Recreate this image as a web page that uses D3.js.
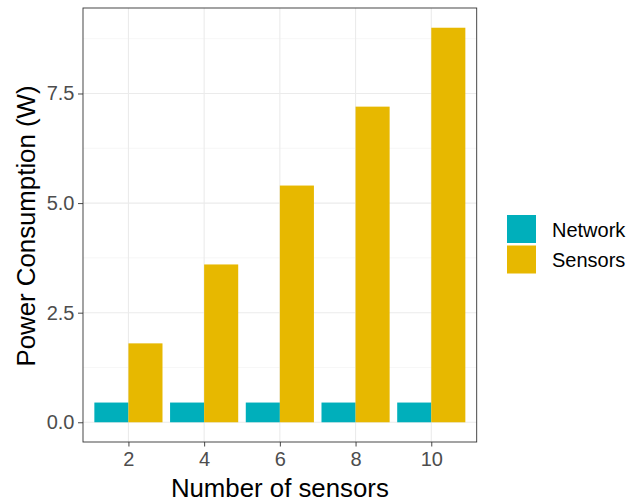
<!DOCTYPE html>
<html>
<head>
<meta charset="utf-8">
<script src="https://cdn.jsdelivr.net/npm/d3@7"></script>
<style>
  html, body { margin: 0; padding: 0; background: #fff; }
  text { font-family: "Liberation Sans", Arial, sans-serif; }
</style>
</head>
<body>
<svg id="chart" width="629" height="502"></svg>
<script>
const categories = ["2", "4", "6", "8", "10"];
const seriesNames = ["Network", "Sensors"];
const networkValues = [0.45, 0.45, 0.45, 0.45, 0.45];
const sensorValues = [1.8, 3.6, 5.4, 7.2, 9.0];
const yTicks = [0, 2.5, 5, 7.5];
const yMinorTicks = [1.25, 3.75, 6.25, 8.75];
const colors = ["#00AFBB", "#E7B800"];

const svg = d3.select("#chart");
const panel = { left: 83, right: 476.7, top: 8, bottom: 442 };

const x = d3.scalePoint().domain(categories).range([panel.left, panel.right]).padding(0.6);
const step = x.step();
const dodge = d3.scaleBand().domain(seriesNames).range([-0.45 * step, 0.45 * step]).padding(0);
const y = d3.scaleLinear().domain([-0.45, 9.45]).range([panel.bottom, panel.top]);
const color = d3.scaleOrdinal().domain(seriesNames).range(colors);

const data = [];
categories.forEach((c, i) => {
  data.push({ cat: c, series: "Network", value: networkValues[i] });
  data.push({ cat: c, series: "Sensors", value: sensorValues[i] });
});

// grid
const g = svg.append("g");
g.selectAll(".minor").data(yMinorTicks).join("line")
  .attr("x1", panel.left).attr("x2", panel.right)
  .attr("y1", d => y(d)).attr("y2", d => y(d))
  .attr("stroke", "#f0f0f0").attr("stroke-width", 0.6);
g.selectAll(".majy").data(yTicks).join("line")
  .attr("x1", panel.left).attr("x2", panel.right)
  .attr("y1", d => y(d)).attr("y2", d => y(d))
  .attr("stroke", "#ebebeb").attr("stroke-width", 1.1);
g.selectAll(".majx").data(categories).join("line")
  .attr("x1", d => x(d)).attr("x2", d => x(d))
  .attr("y1", panel.top).attr("y2", panel.bottom)
  .attr("stroke", "#ebebeb").attr("stroke-width", 1.1);

// bars
svg.append("g").selectAll("rect").data(data).join("rect")
  .attr("x", d => x(d.cat) + dodge(d.series))
  .attr("width", dodge.bandwidth())
  .attr("y", d => y(d.value))
  .attr("height", d => y(0) - y(d.value))
  .attr("fill", d => color(d.series));

// panel border
svg.append("rect")
  .attr("x", panel.left).attr("y", panel.top)
  .attr("width", panel.right - panel.left).attr("height", panel.bottom - panel.top)
  .attr("fill", "none").attr("stroke", "#333").attr("stroke-width", 0.9);

// axes
const yAxis = svg.append("g").attr("transform", `translate(${panel.left},0)`)
  .call(d3.axisLeft(y).tickValues(yTicks).tickFormat(d3.format(".1f")).tickSize(5).tickPadding(3.5));
const xAxis = svg.append("g").attr("transform", `translate(0,${panel.bottom})`)
  .call(d3.axisBottom(x).tickSize(4.5).tickPadding(5.3));
[yAxis, xAxis].forEach(a => {
  a.select(".domain").remove();
  a.selectAll(".tick line").attr("stroke", "#333").attr("stroke-width", 0.9);
  a.selectAll(".tick text").attr("fill", "#4d4d4d").style("font-size", "20px")
    .style("font-family", "'Liberation Sans', Arial, sans-serif");
});

// titles
svg.append("text")
  .attr("x", (panel.left + panel.right) / 2).attr("y", 496.5)
  .attr("text-anchor", "middle").attr("fill", "#000")
  .style("font-size", "25.8px").text("Number of sensors");
svg.append("text")
  .attr("transform", `translate(34.5,${(panel.top + panel.bottom) / 2 + 1}) rotate(-90)`)
  .attr("text-anchor", "middle").attr("fill", "#000")
  .style("font-size", "25.8px").text("Power Consumption (W)");

// legend
const leg = svg.append("g").attr("transform", "translate(507,215)");
seriesNames.forEach((s, i) => {
  leg.append("rect").attr("x", 0).attr("y", i * 30.5).attr("width", 29).attr("height", 28)
    .attr("fill", color(s));
  leg.append("text").attr("x", 45).attr("y", i * 30.5 + 21.5)
    .attr("fill", "#000").style("font-size", "20px").text(s);
});
</script>
</body>
</html>
